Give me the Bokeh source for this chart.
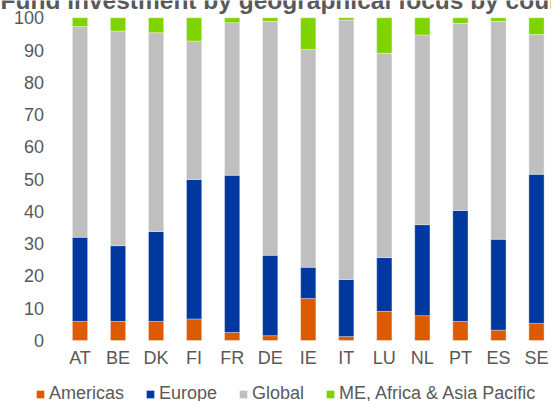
from bokeh.plotting import figure
from bokeh.models import ColumnDataSource, Range1d, FixedTicker, Legend, LegendItem, Label
from bokeh.embed import file_html
from bokeh.resources import INLINE

title_text = "Fund investment by geographical focus by country"
countries = ["AT", "BE", "DK", "FI", "FR", "DE", "IE", "IT", "LU", "NL", "PT", "ES", "SE"]
americas = [5.9, 5.9, 5.9, 6.7, 2.5, 1.5, 13.0, 1.2, 9.0, 7.7, 5.9, 3.2, 5.3]
europe = [26.1, 23.5, 27.9, 43.2, 48.7, 24.9, 9.7, 17.7, 16.7, 28.2, 34.4, 28.2, 46.2]
global_ = [65.3, 66.5, 61.6, 42.9, 47.3, 72.5, 67.5, 80.4, 63.3, 58.8, 58.0, 67.5, 43.3]
meaap = [2.7, 4.1, 4.6, 7.2, 1.5, 1.1, 9.8, 0.7, 11.0, 5.3, 1.7, 1.1, 5.2]
series_labels = ["Americas", "Europe", "Global", "ME, Africa & Asia Pacific"]
y_ticks = list(range(0, 101, 10))

colors = ["#DC5A00", "#0038A0", "#BFBFBF", "#7ED300"]
FONT = "Liberation Sans"
TXT = "#595959"

xs = list(range(len(countries)))
source = ColumnDataSource(dict(x=xs, americas=americas, europe=europe,
                               global_=global_, meaap=meaap))

p = figure(width=551, height=401, output_backend="svg", toolbar_location=None,
           x_range=Range1d(-2.09, 12.395), y_range=Range1d(-18.9, 105.36),
           min_border_left=0, min_border_right=0, min_border_top=0,
           min_border_bottom=0)
p.outline_line_color = None
p.grid.visible = False

renderers = p.vbar_stack(["americas", "europe", "global_", "meaap"], x="x", width=0.4,
                         color=colors, line_color="white", line_alpha=0.35,
                         line_width=1, source=source)

p.xaxis.ticker = FixedTicker(ticks=xs)
p.xaxis.major_label_overrides = {i: c for i, c in enumerate(countries)}
p.xaxis.fixed_location = 0
p.yaxis.ticker = FixedTicker(ticks=y_ticks)
p.yaxis.fixed_location = -0.5
for ax in (p.xaxis, p.yaxis):
    ax.axis_line_color = None
    ax.major_tick_line_color = None
    ax.minor_tick_line_color = None
    ax.major_tick_out = 0
    ax.major_tick_in = 0
    ax.major_label_text_font = FONT
    ax.major_label_text_font_size = "18px"
    ax.major_label_text_color = TXT
p.yaxis.major_label_standoff = 17
p.xaxis.major_label_standoff = 7

legend = Legend(items=[LegendItem(label=l, renderers=[r]) for l, r in zip(series_labels, renderers)],
                location=(35, -3), orientation="horizontal",
                glyph_width=10, glyph_height=10, label_standoff=4, spacing=21,
                padding=0, margin=0, border_line_color=None, background_fill_alpha=0,
                label_text_font=FONT, label_text_font_size="18px", label_text_color=TXT)
p.add_layout(legend)

title = Label(x=0, y=401.5, x_units="screen", y_units="screen", text=title_text,
              text_font=FONT, text_font_style="bold", text_font_size="24.5px",
              text_color=TXT, text_baseline="alphabetic", text_align="left")
p.add_layout(title)

open("out.html", "w").write(file_html(p, INLINE))
